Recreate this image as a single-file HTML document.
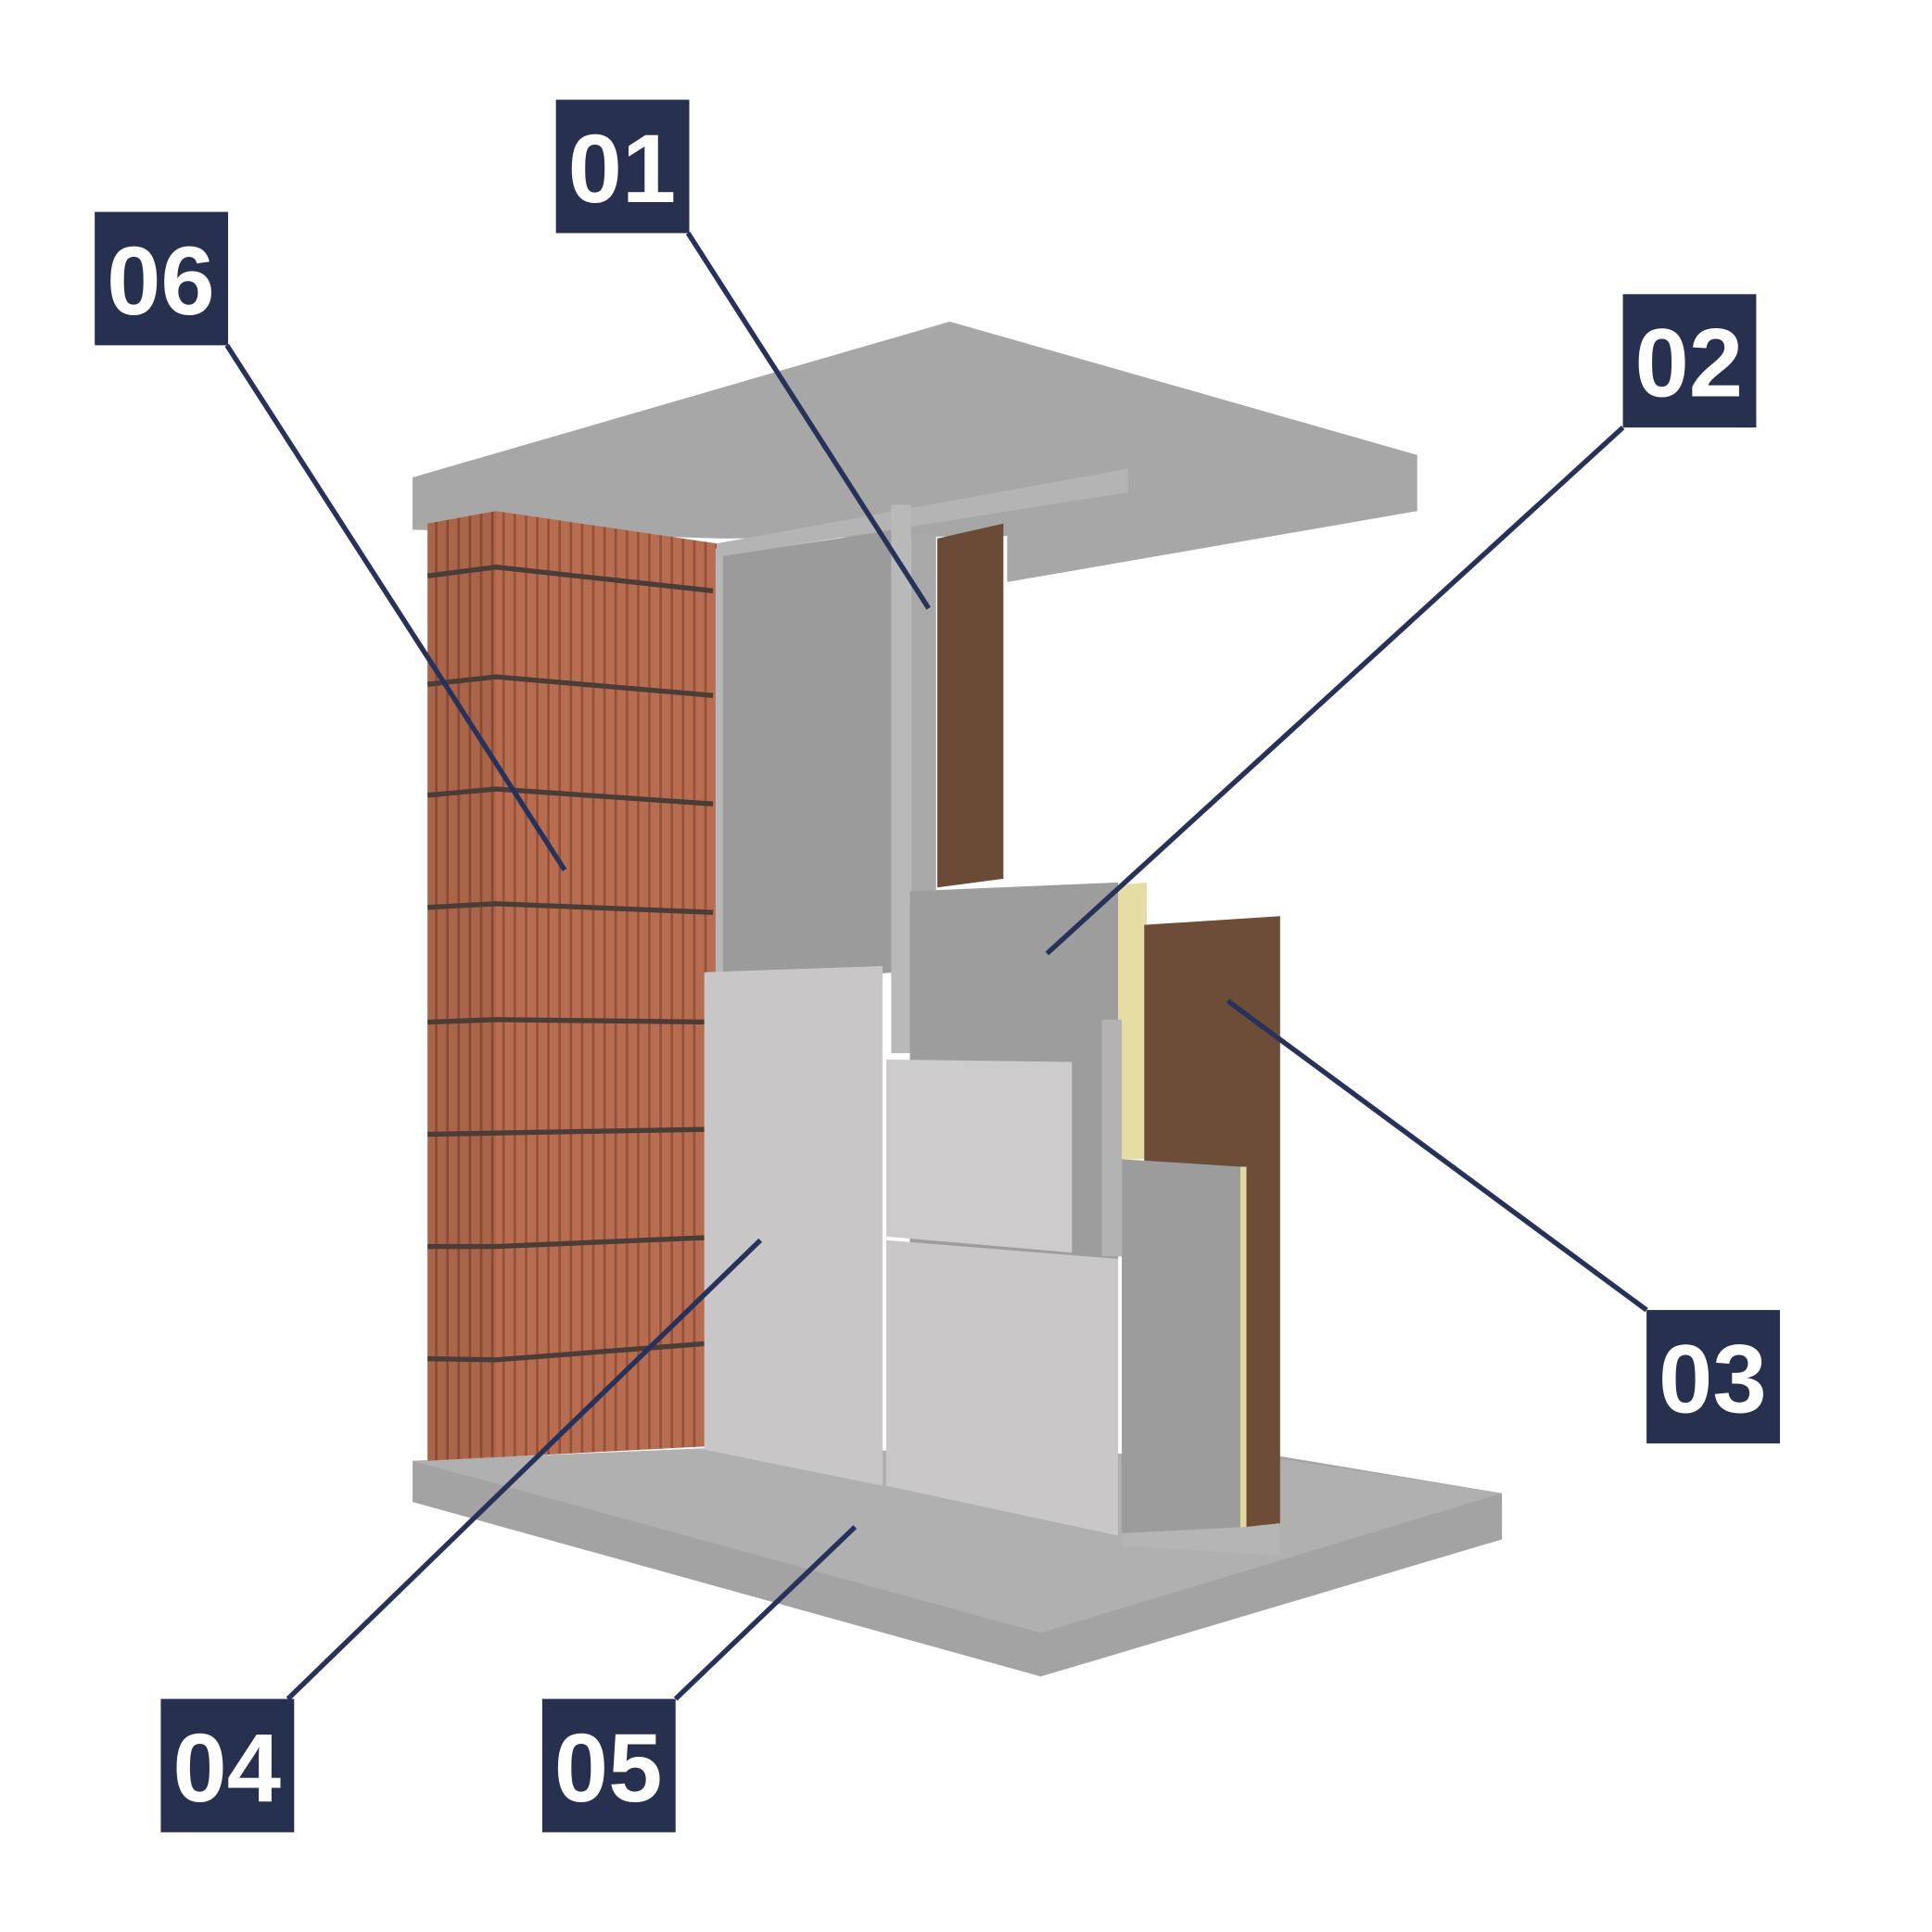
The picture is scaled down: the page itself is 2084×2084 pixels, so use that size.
<!DOCTYPE html>
<html><head><meta charset="utf-8"><style>
html,body{margin:0;padding:0;background:#fff}
svg{display:block}
text{font-family:"Liberation Sans",sans-serif;font-size:78px;font-weight:bold;fill:#fff;text-anchor:middle}
</style></head><body>
<svg width="2084" height="2084" viewBox="0 0 1550 1550" xmlns="http://www.w3.org/2000/svg">
<defs>
<pattern id="br" width="9" height="20" patternUnits="userSpaceOnUse">
<rect width="9" height="20" fill="#b96d50"/><rect x="7" width="2" height="20" fill="#94513a"/>
</pattern>
</defs>
<!-- top slab -->
<polygon points="331,383 762,258 1137,365 1137,410 808,467 808,430 580,432 331,425" fill="#a7a7a7"/>
<!-- bottom slab -->
<polygon points="331,1172 565,1162 1025,1168 1205,1198 1205,1235 835,1345 331,1205" fill="#a3a3a3"/>
<polygon points="331,1172 565,1162 1025,1170 1205,1198 835,1310 331,1172" fill="#b0b0b0"/>
<!-- brick -->
<polygon points="343,420 398,410 575,436 575,1160 343,1172" fill="url(#br)"/>
<polygon points="343,420 398,410 398,1168 343,1172" fill="#000" opacity="0.08"/>
<g stroke="#4a3d38" stroke-width="4" fill="none">
<polyline points="343,462 398,455 572,474"/>
<polyline points="343,549 398,543 572,558"/>
<polyline points="343,638 398,633 572,645"/>
<polyline points="343,728 398,725 572,732"/>
<polyline points="343,820 398,818 568,820"/>
<polyline points="343,910 398,909 566,906"/>
<polyline points="343,1000 398,1000 565,993"/>
<polyline points="343,1090 398,1091 565,1078"/>
</g>
<!-- back grey board -->
<polygon points="578,446 720,425 720,780 578,790" fill="#9b9b9b"/>
<rect x="574" y="440" width="6" height="350" fill="#b7b7b7"/>
<polygon points="575,436 905,376 905,395 575,447" fill="#b4b4b4"/>
<rect x="715" y="405" width="16" height="440" fill="#b9b9b9"/>
<rect x="731" y="425" width="20" height="300" fill="#a8a8a8"/>
<polygon points="752,432 805,420 805,705 752,712" fill="#6c4b36"/>
<polygon points="730,715 897,708 897,1010 730,1000" fill="#9d9d9d"/>
<polygon points="897,710 920,708 920,930 897,930" fill="#e6dda5"/>
<polygon points="918,742 1027,735 1027,1225 918,1228" fill="#6e4d38"/>
<rect x="884" y="818" width="16" height="190" fill="#b3b3b3"/>
<polygon points="900,930 995,936 995,1232 900,1230" fill="#9c9c9c"/>
<polygon points="995,936 1000,936 1000,1232 995,1232" fill="#e2d8a0"/>
<polygon points="1000,1225 1027,1222 1027,1248 900,1240 900,1230" fill="#b5b5b5"/>
<polygon points="565,780 708,775 708,1192 565,1163" fill="#c8c6c6"/>
<polygon points="711,850 860,852 860,1005 711,992" fill="#cdcbcb"/>
<polygon points="711,995 897,1010 897,1232 711,1192" fill="#c9c7c7"/>
<g stroke="#27325a" stroke-width="4">
<line x1="552" y1="187" x2="745" y2="488"/>
<line x1="182" y1="277" x2="453" y2="698"/>
<line x1="1302" y1="343" x2="840" y2="765"/>
<line x1="1321" y1="1051" x2="985" y2="803"/>
<line x1="231" y1="1363" x2="610" y2="995"/>
<line x1="542" y1="1363" x2="686" y2="1225"/>
</g>
<g fill="#27304f">
<rect x="446" y="80" width="107" height="107"/>
<rect x="76" y="170" width="107" height="107"/>
<rect x="1302" y="236" width="107" height="107"/>
<rect x="1321" y="1051" width="107" height="107"/>
<rect x="129" y="1363" width="107" height="107"/>
<rect x="435" y="1363" width="107" height="107"/>
</g>
<text x="499" y="162">01</text>
<text x="129" y="252">06</text>
<text x="1355" y="318">02</text>
<text x="1374" y="1133">03</text>
<text x="182" y="1445">04</text>
<text x="488" y="1445">05</text>
</svg>
</body></html>
